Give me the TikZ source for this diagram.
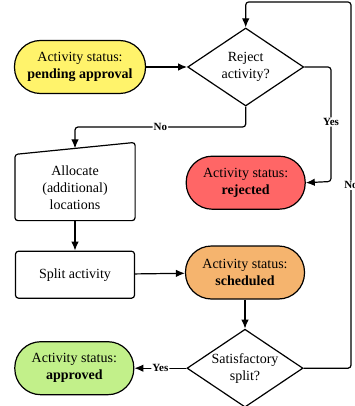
\documentclass[tikz,border=0pt]{standalone}
\usepackage{fontspec}
\setmainfont{Liberation Serif}
\usetikzlibrary{arrows.meta,positioning,shapes.geometric}
\definecolor{pendingyellow}{RGB}{255,243,107}
\definecolor{rejectedred}{RGB}{255,102,102}
\definecolor{scheduledorange}{RGB}{245,180,110}
\definecolor{approvedgreen}{RGB}{194,240,138}
\begin{document}
\begin{tikzpicture}[x=1pt,y=-1pt,line width=1.2pt,font=\fontsize{14}{17}\selectfont]
	\tikzstyle{status}=[draw, rectangle, rounded corners=26pt, minimum width=119pt, minimum height=53pt, align=center]
	\tikzstyle{decision}=[draw, diamond, aspect=1.5, minimum width=116pt, minimum height=78pt, inner sep=0pt, align=center, fill=white]
	\tikzstyle{process}=[draw, rectangle, rounded corners=3pt, minimum width=119pt, minimum height=47pt, align=center]
	\tikzstyle{flow}=[-{Latex[length=9pt,width=7.5pt]}, rounded corners=3pt]
	\tikzstyle{answer}=[fill=white, inner sep=1pt, font=\fontsize{11}{13}\selectfont\bfseries]
	\useasboundingbox (0,0) rectangle (355,406);

	\node[status, fill=pendingyellow, minimum width=131pt] (pending) at (80,67) {Activity status:\\\textbf{pending approval}};
	\node[decision] (reject) [right=41pt of pending] {Reject\\activity?};
	\node[status, fill=rejectedred] (rejected) [below=49pt of reject] {Activity status:\\\textbf{rejected}};
	\node[minimum width=119pt, minimum height=65pt, align=center] (alloc) at (75,187.5) {Allocate\\(additional)\\locations};
	\draw[rounded corners=3pt] (alloc.south west) -- (alloc.north west) -- ([yshift=12pt]alloc.north east) -- (alloc.south east) -- cycle;
	\node[process] (split) [below=30pt of alloc] {Split activity};
	\node[status, fill=scheduledorange] (scheduled) at (245,272.5) {Activity status:\\\textbf{scheduled}};
	\node[decision] (satisfactory) [below=29pt of scheduled] {Satisfactory\\split?};
	\node[status, fill=approvedgreen] (approved) [left=52pt of satisfactory] {Activity status:\\\textbf{approved}};

	\coordinate (nobend) at (75,127);
	\coordinate (yescorner) at (331,181.5);
	\coordinate (looptop) at (351,2);

	\draw[flow] (pending) -- (reject);
	\draw[flow] (reject.south) |- node[answer, pos=0.75] {No} (nobend) -- ([yshift=6pt]alloc.north);
	\draw[flow] (reject.east) -| node[answer, pos=0.74] {Yes} (yescorner) -- (rejected.east);
	\draw[flow] (alloc.south) -- (split);
	\draw[flow] (split) -- (scheduled);
	\draw[flow] (scheduled) -- (satisfactory);
	\draw[flow] (satisfactory) -- node[answer] {Yes} (approved);
	\draw[flow] (satisfactory.east) -| node[answer, pos=0.75] {No} (looptop) -| (reject.north);
\end{tikzpicture}
\end{document}
